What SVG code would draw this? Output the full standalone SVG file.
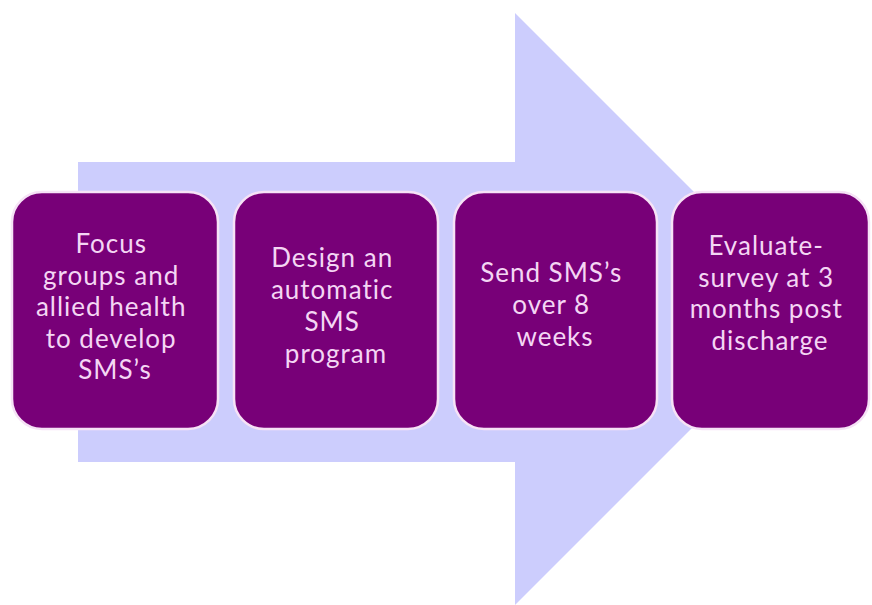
<svg xmlns="http://www.w3.org/2000/svg" width="872" height="605" viewBox="0 0 872 605">
  <style>
    .step { fill: #780078; stroke: #f6e2f6; stroke-width: 2.5; }
    .label { fill: #f4d6f4; font-family: Lato, "Open Sans", "Liberation Sans", sans-serif; font-size: 26px; letter-spacing: 1px; text-anchor: middle; }
  </style>
  <rect width="872" height="605" fill="#ffffff"/>
  <!-- Background process arrow -->
  <g id="arrow">
    <polygon points="78,162 515,162 515,13 811,309 515,605 515,462 78,462" fill="#cccdfd"/>
  </g>
  <g id="step1">
    <rect class="step" x="12" y="192" width="206" height="237" rx="30" ry="30"/>
    <text class="label">
      <tspan x="115" y="253">Focus</tspan>
      <tspan x="115" y="284.5">groups  and</tspan>
      <tspan x="115" y="316">allied health</tspan>
      <tspan x="115" y="347.5">to develop</tspan>
      <tspan x="115" y="379">SMS’s</tspan>
    </text>
  </g>
  <g id="step2">
    <rect class="step" x="234" y="192" width="204" height="237" rx="30" ry="30"/>
    <text class="label">
      <tspan x="336" y="267">Design an</tspan>
      <tspan x="336" y="299">automatic</tspan>
      <tspan x="336" y="331">SMS</tspan>
      <tspan x="336" y="363">program</tspan>
    </text>
  </g>
  <g id="step3">
    <rect class="step" x="454" y="192" width="203" height="237" rx="30" ry="30"/>
    <text class="label">
      <tspan x="555" y="282">Send SMS’s</tspan>
      <tspan x="555" y="314">over 8</tspan>
      <tspan x="555" y="346">weeks</tspan>
    </text>
  </g>
  <g id="step4">
    <rect class="step" x="672" y="192" width="197" height="237" rx="30" ry="30"/>
    <text class="label">
      <tspan x="770" y="255">Evaluate-</tspan>
      <tspan x="770" y="286.5">survey at 3</tspan>
      <tspan x="770" y="318">months post</tspan>
      <tspan x="770" y="349.5">discharge</tspan>
    </text>
  </g>
  <g id="connectors"/>
</svg>
